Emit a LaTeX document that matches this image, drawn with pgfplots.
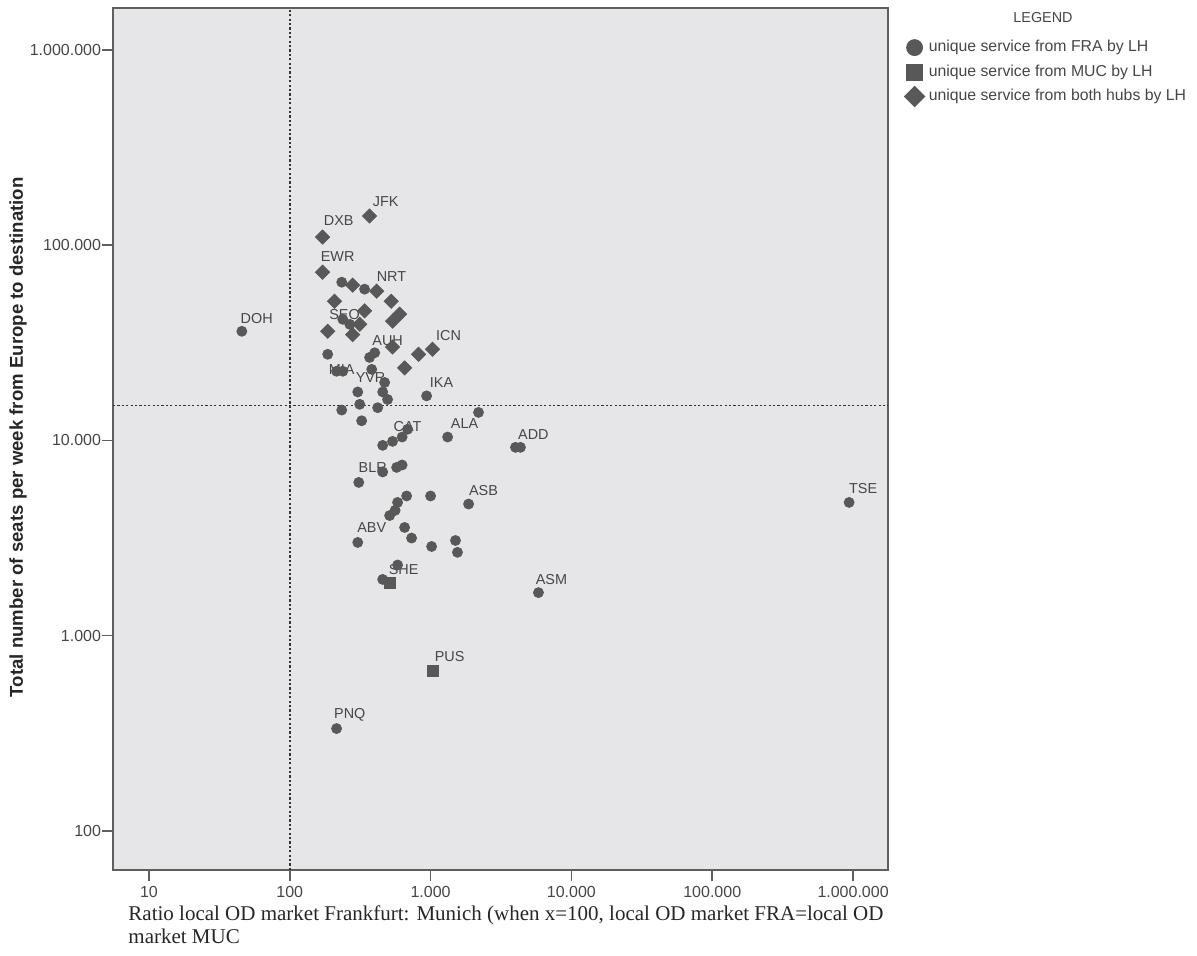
\documentclass[border=0pt]{standalone}
\usepackage{pgfplots}
\pgfplotsset{compat=1.18}
\usepackage{fontspec}
\setmainfont{Liberation Sans}
\newfontfamily\serifx{Liberation Serif}
\definecolor{bg}{RGB}{230,230,232}
\definecolor{mk}{RGB}{88,88,88}
\definecolor{fr}{RGB}{95,95,95}
\definecolor{tx}{RGB}{70,70,70}
\tikzset{lbl/.style={font=\fontsize{7.2}{8.6}\selectfont, text=tx, inner sep=0pt}}

\begin{document}
\begin{tikzpicture}
\path[use as bounding box] (-56.5pt,-43pt) rectangle (542pt,435pt);
\begin{axis}[
  name=ax,
  at={(0,0)}, anchor=south west,
  scale only axis, width=387.5pt, height=431pt,
  xmode=log, ymode=log,
  xmin=5.56, xmax=1.77e6, ymin=63, ymax=1.64e6,
  axis background/.style={fill=bg},
  axis line style={fr, line width=1pt},
  tick pos=left, tick align=outside,
  major tick length=5.5pt,
  every tick/.style={fr, line width=0.8pt},
  xminorticks=false, yminorticks=false,
  xtick={10,100,1000,10000,100000,1000000},
  xticklabels={10,100,1.000,10.000,100.000,1.000.000},
  ytick={100,1000,10000,100000,1000000},
  yticklabels={100,1.000,10.000,100.000,1.000.000},
  ticklabel style={font=\fontsize{8}{9.6}\selectfont, text=tx},
  yticklabel style={xshift=3pt},
  xticklabel style={yshift=1pt},
  ylabel={Total number of seats per week from Europe to destination},
  ylabel style={at={(axis description cs:-0.1226,0.502)}, anchor=center, font=\bfseries\fontsize{9.3}{11}\selectfont, text=black!85},
  xlabel={Ratio local OD market Frankfurt: Munich (when x=100, local OD market FRA=local OD\\market MUC},
  xlabel style={at={(axis description cs:0.0194,-0.0406)}, anchor=north west, align=left, inner sep=0pt, font=\serifx\fontsize{10.5}{11.5}\selectfont, text=black!85},
  legend style={at={(1,1)}, anchor=north west, xshift=8pt, yshift=-14pt, draw=none, fill=none, font=\fontsize{7.9}{9}\selectfont, text=tx, row sep=1pt, inner sep=0pt},
  legend cell align=left,
  legend image code/.code={\draw[#1] plot coordinates {(0pt,0pt)};},
]
\addplot[only marks, mark=*, mark size=2.5pt, mk, fill=mk, legend image post style={mark size=4pt}] coordinates {
(45.7,36200) (234,64600) (340,59500) (238,41700) (267,39300) (186,27600)
(369,26600) (401,28100) (215,22600) (238,22600) (382,23100) (472,19800)
(304,17700) (457,17700) (495,16200) (937,16900) (314,15300) (234,14300)
(421,14700) (324,12600) (2189,13900) (687,11400) (537,9880) (628,10400)
(457,9430) (1321,10400) (4008,9210) (4345,9210) (574,7270) (628,7480)
(457,6890) (309,6090) (676,5190) (583,4810) (1000,5190) (1862,4720)
(512,4120) (560,4380) (654,3580) (733,3160) (304,3000) (1017,2860)
(1503,3070) (1552,2670) (583,2300) (457,1940) (5834,1660) (215,334)
(937000,4810)
};
\addlegendentry{unique service from FRA by LH}
\addplot[only marks, mark=square*, mark size=2.7pt, mk, fill=mk, legend image post style={mark size=4pt}] coordinates {
(512,1870) (1033,662)
};
\addlegendentry{unique service from MUC by LH}
\addplot[only marks, mark=square*, mark size=2.5pt, mark options={rotate=45}, mk, fill=mk, legend image post style={mark size=3.6pt}] coordinates {
(369,141000) (171,110000) (171,72700) (280,62400) (414,58100) (208,51600)
(525,51600) (340,46100) (603,44300) (537,40800) (186,36200) (280,34800)
(314,39300) (537,30100) (1033,29300) (822,27600) (654,23500)
};
\addlegendentry{unique service from both hubs by LH}
\addplot[forget plot, black!80, line width=0.9pt, dash pattern=on 1.1pt off 1.1pt] coordinates {(100,63) (100,1.64e6)};
\addplot[forget plot, black!80, line width=0.9pt, dash pattern=on 1.1pt off 1.1pt] coordinates {(5.56,15100) (1.77e6,15100)};
\node[lbl] at (axis cs:480,168000) {JFK};
\node[lbl] at (axis cs:223,134000) {DXB};
\node[lbl] at (axis cs:219,87900) {EWR};
\node[lbl] at (axis cs:528,69300) {NRT};
\node[lbl] at (axis cs:58.3,42300) {DOH};
\node[lbl] at (axis cs:245,44300) {SEO};
\node[lbl] at (axis cs:496,32600) {AUH};
\node[lbl] at (axis cs:1343,34500) {ICN};
\node[lbl] at (axis cs:234,23100) {MIA};
\node[lbl] at (axis cs:375,21000) {YVR};
\node[lbl] at (axis cs:1197,19800) {IKA};
\node[lbl] at (axis cs:687,11800) {CAT};
\node[lbl] at (axis cs:1742,12200) {ALA};
\node[lbl] at (axis cs:5370,10700) {ADD};
\node[lbl] at (axis cs:388,7280) {BLR};
\node[lbl] at (axis cs:2377,5540) {ASB};
\node[lbl] at (axis cs:1178000,5680) {TSE};
\node[lbl] at (axis cs:382,3580) {ABV};
\node[lbl] at (axis cs:644,2180) {SHE};
\node[lbl] at (axis cs:7210,1940) {ASM};
\node[lbl] at (axis cs:1365,780) {PUS};
\node[lbl] at (axis cs:267,394) {PNQ};
\end{axis}
\node[lbl, anchor=center] at ([xshift=77.5pt,yshift=-5pt]ax.north east) {LEGEND};
\end{tikzpicture}
\end{document}
